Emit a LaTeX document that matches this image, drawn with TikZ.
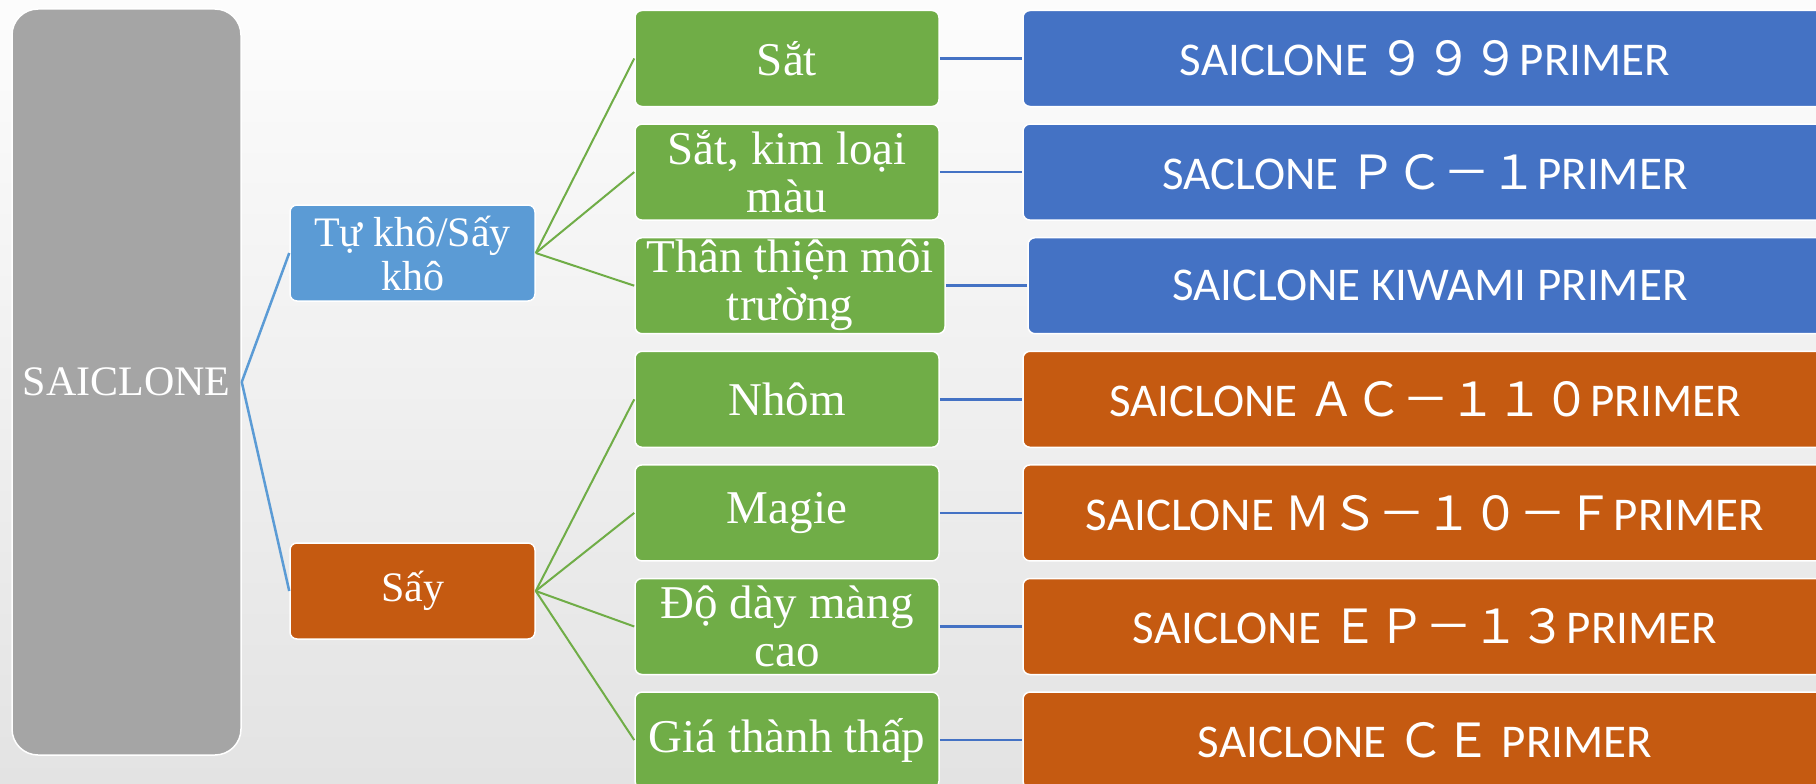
\documentclass[tikz,border=0pt]{standalone}
\usepackage{fontspec}
\setmainfont{Liberation Serif}
\newfontfamily\calfont{Carlito}
\newfontfamily\jpfont{Noto Sans CJK JP}
\definecolor{cgray}{HTML}{A5A5A5}
\definecolor{clblue}{HTML}{5B9BD5}
\definecolor{corange}{HTML}{C55A11}
\definecolor{cgreen}{HTML}{70AD47}
\definecolor{cblue}{HTML}{4472C4}
\tikzset{
  box/.style={rectangle, rounded corners=7pt, draw=white, line width=1.5pt, text=white, inner sep=0pt, align=center},
  rootbox/.style={box, fill=cgray, rounded corners=26pt, minimum width=229pt, minimum height=746pt, font=\fontsize{42}{44}\selectfont},
  midbox/.style={box, minimum width=245pt, minimum height=96pt, font=\fontsize{42}{44}\selectfont},
  greenbox/.style={box, fill=cgreen, minimum width=304pt, minimum height=96pt, font=\fontsize{47}{48}\selectfont},
  prodbox/.style={box, minimum width=804pt, minimum height=96pt, font=\calfont\fontsize{47}{50}\selectfont},
  blueprod/.style={prodbox, fill=cblue},
  orangeprod/.style={prodbox, fill=corange},
  rootline/.style={draw=clblue, line width=2.5pt},
  greenline/.style={draw=cgreen, line width=2pt},
  prodline/.style={draw=cblue, line width=2.5pt},
}
\begin{document}
\begin{tikzpicture}[x=1pt,y=-1pt]
\path[use as bounding box] (0,0) rectangle (1816,784);
\clip (0,0) rectangle (1816,784);
\fill[top color=white!99!black, bottom color=black!11] (0,0) rectangle (1816,784);

\node[rootbox] (root) at (126.5,382) {SAICLONE};
\node[midbox, fill=clblue] (tk) at (412.5,253) {Tự khô/Sấy\\khô};
\node[midbox, fill=corange] (say) at (412.5,591) {Sấy};

\node[greenbox] (g1) at (787,58.5) {Sắt};
\node[greenbox] (g2) at (787,172.1) {Sắt, kim loại\\màu};
\node[greenbox, minimum width=310pt] (g3) at (790,285.7) {Thân thiện môi\\trường};
\node[greenbox] (g4) at (787,399.3) {Nhôm};
\node[greenbox] (g5) at (787,512.9) {Magie};
\node[greenbox] (g6) at (787,626.5) {Độ dày màng\\cao};
\node[greenbox] (g7) at (787,740.1) {Giá thành thấp};

\node[blueprod] (r1) at (1425,58.5) {SAICLONE {\jpfont ９９９}PRIMER};
\node[blueprod] (r2) at (1425,172.1) {SACLONE {\jpfont ＰＣ－１}PRIMER};
\node[blueprod] (r3) at (1430,285.7) {SAICLONE KIWAMI PRIMER};
\node[orangeprod] (r4) at (1425,399.3) {SAICLONE {\jpfont ＡＣ－１１０}PRIMER};
\node[orangeprod] (r5) at (1425,512.9) {SAICLONE {\jpfont ＭＳ－１０－Ｆ}PRIMER};
\node[orangeprod] (r6) at (1425,626.5) {SAICLONE {\jpfont ＥＰ－１３}PRIMER};
\node[orangeprod] (r7) at (1425,740.1) {SAICLONE {\jpfont ＣＥ} PRIMER};

\draw[rootline] (root.east) -- (tk.west);
\draw[rootline] (root.east) -- (say.west);
\foreach \g in {g1,g2,g3} \draw[greenline] (tk.east) -- (\g.west);
\foreach \g in {g4,g5,g6,g7} \draw[greenline] (say.east) -- (\g.west);
\foreach \i in {1,...,7} \draw[prodline] (g\i.east) -- (r\i.west);
\end{tikzpicture}
\end{document}
